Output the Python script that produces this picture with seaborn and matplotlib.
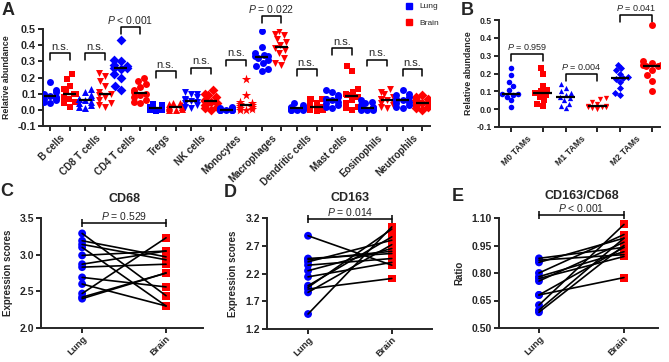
import numpy as np
import pandas as pd
import matplotlib
matplotlib.use('Agg')
import matplotlib.pyplot as plt
import seaborn as sns
from matplotlib.lines import Line2D

sns.set_style('ticks')
plt.rcParams['font.family'] = ['Liberation Sans', 'DejaVu Sans']
plt.rcParams['mathtext.fontset'] = 'custom'
plt.rcParams['mathtext.it'] = 'Liberation Sans:italic'
plt.rcParams['mathtext.rm'] = 'Liberation Sans'
plt.rcParams['axes.unicode_minus'] = False

BLUE = '#0000ff'
RED = '#ff0000'

# ---------------- panel A data ----------------
cells = ['B cells', 'CD8 T cells', 'CD4 T cells', 'Tregs', 'NK cells', 'Monocytes',
         'Macrophages', 'Dendritic cells', 'Mast cells', 'Eosinophils', 'Neutrophils']
bcell_lung = [0.17, 0.12, 0.11, 0.10, 0.09, 0.085, 0.08, 0.075, 0.07, 0.06, 0.05, 0.04]
bcell_brain = [0.22, 0.19, 0.15, 0.13, 0.11, 0.10, 0.095, 0.08, 0.07, 0.05, 0.04, 0.02]
cd8_lung = [0.13, 0.11, 0.09, 0.08, 0.07, 0.065, 0.06, 0.05, 0.04, 0.03, 0.02, 0.01]
cd8_brain = [0.23, 0.21, 0.18, 0.15, 0.11, 0.10, 0.09, 0.08, 0.06, 0.04, 0.03, 0.02]
cd4_lung = [0.43, 0.31, 0.30, 0.28, 0.27, 0.26, 0.26, 0.25, 0.22, 0.20, 0.15, 0.12]
cd4_brain = [0.20, 0.18, 0.16, 0.14, 0.12, 0.11, 0.10, 0.09, 0.08, 0.06, 0.05, 0.04]
treg_lung = [0.035, 0.03, 0.02, 0.015, 0.01, 0.01, 0.01, 0.005, 0.0, 0.0, -0.005, 0.0]
treg_brain = [0.045, 0.04, 0.035, 0.03, 0.025, 0.02, 0.02, 0.015, 0.01, 0.005, 0.0, 0.0]
nk_lung = [0.11, 0.10, 0.095, 0.08, 0.07, 0.06, 0.055, 0.05, 0.04, 0.03, 0.02, 0.01]
nk_brain = [0.12, 0.10, 0.09, 0.08, 0.06, 0.055, 0.05, 0.04, 0.03, 0.02, 0.01, 0.0]
mono_lung = [0.02, 0.01, 0.01, 0.005, 0.005, 0.0, 0.0, 0.0, 0.0, 0.0, 0.0, 0.0]
mono_brain = [0.19, 0.09, 0.05, 0.04, 0.035, 0.03, 0.025, 0.02, 0.01, 0.005, 0.0, 0.0]
mac_lung = [0.49, 0.39, 0.35, 0.34, 0.335, 0.33, 0.32, 0.31, 0.29, 0.27, 0.25, 0.24]
mac_brain = [0.49, 0.47, 0.46, 0.44, 0.42, 0.40, 0.38, 0.37, 0.35, 0.32, 0.29, 0.28]
dc_lung = [0.04, 0.03, 0.02, 0.015, 0.01, 0.01, 0.01, 0.005, 0.0, 0.0, 0.0, 0.0]
dc_brain = [0.07, 0.07, 0.065, 0.04, 0.03, 0.02, 0.01, 0.01, 0.0, 0.0, 0.0, -0.005]
mast_lung = [0.12, 0.11, 0.09, 0.08, 0.07, 0.065, 0.06, 0.05, 0.04, 0.03, 0.02, 0.01]
mast_brain = [0.27, 0.24, 0.13, 0.11, 0.10, 0.09, 0.08, 0.06, 0.04, 0.02, 0.01, 0.0]
eos_lung = [0.06, 0.05, 0.04, 0.03, 0.02, 0.015, 0.01, 0.01, 0.005, 0.0, 0.0, 0.0]
eos_brain = [0.13, 0.11, 0.10, 0.08, 0.07, 0.065, 0.06, 0.05, 0.04, 0.03, 0.02, 0.01]
neut_lung = [0.12, 0.10, 0.09, 0.08, 0.07, 0.06, 0.06, 0.05, 0.04, 0.03, 0.02, 0.01]
neut_brain = [0.09, 0.08, 0.07, 0.06, 0.05, 0.045, 0.04, 0.04, 0.03, 0.02, 0.01, 0.0]
a_lung = [bcell_lung, cd8_lung, cd4_lung, treg_lung, nk_lung, mono_lung,
          mac_lung, dc_lung, mast_lung, eos_lung, neut_lung]
a_brain = [bcell_brain, cd8_brain, cd4_brain, treg_brain, nk_brain, mono_brain,
           mac_brain, dc_brain, mast_brain, eos_brain, neut_brain]
a_lung_marker = ['o', '^', 'D', 's', 'v', 'o', 'o', 'o', 'o', 'o', 'o']
a_brain_marker = ['s', 'v', 'o', '^', 'D', '*', 'v', 's', 's', 'v', 'D']
a_sig_y = [0.35, 0.35, 0.51, 0.24, 0.26, 0.31, 0.58, 0.25, 0.38, 0.31, 0.25]
a_sig_txt = ['n.s.', 'n.s.', r'$\it{P}$ < 0.001', 'n.s.', 'n.s.', 'n.s.',
             r'$\it{P}$ = 0.022', 'n.s.', 'n.s.', 'n.s.', 'n.s.']

# ---------------- panel B data ----------------
tams = ['M0 TAMs', 'M1 TAMs', 'M2 TAMs']
m0_lung = [0.23, 0.19, 0.155, 0.13, 0.105, 0.085, 0.083, 0.08, 0.07, 0.05, 0.013]
m0_brain = [0.23, 0.20, 0.13, 0.11, 0.10, 0.088, 0.08, 0.07, 0.05, 0.03, 0.02]
m1_lung = [0.14, 0.12, 0.10, 0.09, 0.08, 0.07, 0.06, 0.05, 0.03, 0.02, 0.005]
m1_brain = [0.06, 0.055, 0.04, 0.03, 0.02, 0.015, 0.01, 0.01, 0.01, 0.005, 0.0]
m2_lung = [0.25, 0.23, 0.22, 0.20, 0.18, 0.175, 0.17, 0.15, 0.12, 0.09, 0.08]
m2_brain = [0.47, 0.27, 0.26, 0.25, 0.245, 0.24, 0.24, 0.22, 0.19, 0.16, 0.10]
b_lung = [m0_lung, m1_lung, m2_lung]
b_brain = [m0_brain, m1_brain, m2_brain]
b_lung_marker = ['o', '^', 'D']
b_brain_marker = ['s', 'v', 'o']
b_sig_y = [0.31, 0.20, 0.53]
b_sig_txt = [r'$\it{P}$ = 0.959', r'$\it{P}$ = 0.004', r'$\it{P}$ = 0.041']

# ---------------- panels C-E data (paired) ----------------
cd68_lung = [3.29, 3.19, 3.14, 3.10, 2.99, 2.87, 2.83, 2.69, 2.60, 2.47, 2.42, 2.40]
cd68_brain = [2.44, 2.97, 2.93, 2.30, 3.05, 3.05, 2.87, 2.56, 2.30, 3.23, 2.75, 2.75]
cd163_lung = [2.88, 2.47, 2.41, 2.35, 2.25, 2.14, 1.98, 1.92, 1.86, 1.47, 2.45, 1.95]
cd163_brain = [2.35, 2.56, 2.80, 2.47, 2.65, 2.40, 2.86, 2.11, 2.72, 3.04, 2.60, 3.00]
ratio_lung = [0.88, 0.858, 0.80, 0.78, 0.756, 0.68, 0.625, 0.598, 0.586, 0.87, 0.77, 0.68]
ratio_brain = [0.94, 0.99, 1.01, 0.916, 0.968, 0.775, 1.065, 0.99, 0.95, 0.90, 0.89, 0.94]


def long_table(groups_lung, groups_brain, lung_m, brain_m, off):
    rows = []
    for i in range(len(groups_lung)):
        for tissue, vals, mk, sign in [('Lung', groups_lung[i], lung_m[i], -1),
                                        ('Brain', groups_brain[i], brain_m[i], 1)]:
            for v in vals:
                rows.append({'group': i, 'tissue': tissue, 'value': v,
                             'pos': i + sign * off, 'marker': mk})
    return pd.DataFrame(rows)


def swarm_panel(ax, df, size_lung, size_brain, half):
    for (g, tissue), sub in df.groupby(['group', 'tissue']):
        mask = (df['group'] == g) & (df['tissue'] == tissue)
        color = BLUE if tissue == 'Lung' else RED
        mk = sub['marker'].iloc[0]
        sz = size_lung[g] if tissue == 'Lung' else size_brain[g]
        if mk == '*':
            sz = sz * 1.4
        sns.swarmplot(data=df.assign(value=df['value'].where(mask)), x='pos', y='value',
                      native_scale=True, orient='x', color=color, marker=mk, size=sz,
                      linewidth=0, warn_thresh=1, ax=ax, zorder=3)
        med = np.median(sub['value'])
        p = sub['pos'].iloc[0]
        ax.hlines(med, p - half, p + half, color='black', lw=1.6, zorder=5)


def style_axes(ax, lw=1.4):
    sns.despine(ax=ax)
    for s in ['left', 'bottom']:
        ax.spines[s].set_linewidth(lw)
    ax.tick_params(axis='both', width=lw, length=3.5, direction='out', pad=1.5)
    ax.set_xlabel('')


fig = plt.figure(figsize=(6.69, 3.62), dpi=100)
W, H = 669, 362


def rect(l, r, t, b):
    return [l / W, 1 - b / H, (r - l) / W, (b - t) / H]


axA = fig.add_axes(rect(43, 430, 29, 126))
axB = fig.add_axes(rect(499, 660, 20, 127))
axC = fig.add_axes(rect(41, 203, 218, 328))
axD = fig.add_axes(rect(267, 432, 218, 329))
axE = fig.add_axes(rect(499, 658, 218, 328))

# ---------------- A ----------------
offA = 0.28
dfa = long_table(a_lung, a_brain, a_lung_marker, a_brain_marker, offA)
swarm_panel(axA, dfa, [5] * 11, [5] * 11, 0.18)
axA.set_xlim(-0.48, 10.5)
axA.set_ylim(-0.1, 0.5)
axA.set_yticks(np.arange(-0.1, 0.51, 0.1))
axA.yaxis.set_major_formatter(matplotlib.ticker.FormatStrFormatter('%.1f'))
style_axes(axA)
axA.set_xticks(sorted(dfa['pos'].unique()), minor=True)
axA.set_xticks(range(len(cells)))
axA.set_xticklabels(cells, rotation=45, ha='right', rotation_mode='anchor',
                    fontsize=7.0, fontweight='bold')
axA.tick_params(axis='x', which='major', length=0, pad=5)
axA.tick_params(axis='x', which='minor', length=3.5, width=1.4)
axA.tick_params(axis='y', labelsize=7.8)
for t in axA.get_yticklabels():
    t.set_fontweight('bold')
axA.set_ylabel('Relative abundance', fontsize=6.4, fontweight='bold', labelpad=5)
for i, (h, lab) in enumerate(zip(a_sig_y, a_sig_txt)):
    axA.plot([i - offA, i - offA, i + offA, i + offA], [h - 0.04, h, h, h - 0.04],
             color='black', lw=1.1, clip_on=False)
    axA.annotate(lab, (i, h), xytext=(0, 1), textcoords='offset points',
                 ha='center', va='bottom', fontsize=8 if lab == 'n.s.' else 7.5,
                 annotation_clip=False)

fig.legend(handles=[Line2D([], [], marker='s', ls='', color=BLUE, markersize=5, label='Lung'),
                    Line2D([], [], marker='s', ls='', color=RED, markersize=5, label='Brain')],
           loc='upper left', bbox_to_anchor=(404 / W, 1 - 1 / H), frameon=False,
           fontsize=6, handlelength=0.8, handletextpad=0.9, labelspacing=1.0,
           borderaxespad=0, borderpad=0.2)

# ---------------- B ----------------
offB = 0.29
dfb = long_table(b_lung, b_brain, b_lung_marker, b_brain_marker, offB)
swarm_panel(axB, dfb, [4, 3.8, 3.6], [4, 3.8, 5], 0.17)
axB.set_xlim(-0.51, 2.44)
axB.set_ylim(-0.1, 0.5)
axB.set_yticks(np.arange(-0.1, 0.51, 0.1))
axB.yaxis.set_major_formatter(matplotlib.ticker.FormatStrFormatter('%.1f'))
style_axes(axB)
axB.set_xticks(sorted(dfb['pos'].unique()), minor=True)
axB.set_xticks(range(len(tams)))
axB.set_xticklabels(tams, rotation=45, ha='right', rotation_mode='anchor',
                    fontsize=6.3, fontweight='bold')
axB.tick_params(axis='x', which='major', length=0, pad=5)
axB.tick_params(axis='x', which='minor', length=3.5, width=1.4)
axB.tick_params(axis='y', labelsize=6.2)
for t in axB.get_yticklabels():
    t.set_fontweight('bold')
axB.set_ylabel('Relative abundance', fontsize=6.4, fontweight='bold', labelpad=2.5)
for i, (h, lab) in enumerate(zip(b_sig_y, b_sig_txt)):
    axB.plot([i - offB, i - offB, i + offB, i + offB], [h - 0.04, h, h, h - 0.04],
             color='black', lw=1.1, clip_on=False)
    axB.annotate(lab, (i, h), xytext=(0, 1), textcoords='offset points',
                 ha='center', va='bottom', fontsize=6.5, annotation_clip=False)


# ---------------- C-E ----------------
def paired_panel(ax, lung, brain, title, ptxt, ylim, yticks, fmt, ylabel, bar_y, title_off):
    df = pd.DataFrame({
        'pair': list(range(len(lung))) * 2,
        'tissue': ['Lung'] * len(lung) + ['Brain'] * len(brain),
        'value': list(lung) + list(brain),
    })
    df['pos'] = df['tissue'].map({'Lung': 0, 'Brain': 1})
    sns.scatterplot(data=df, x='pos', y='value', hue='tissue', style='tissue',
                    markers={'Lung': 'o', 'Brain': 's'}, palette={'Lung': BLUE, 'Brain': RED},
                    s=32, linewidth=0, legend=False, ax=ax, zorder=3, clip_on=False)
    sns.lineplot(data=df, x='pos', y='value', units='pair', estimator=None, color='black',
                 lw=1.2, legend=False, ax=ax, zorder=4, sort=False)
    ax.set_ylim(*ylim)
    ax.set_yticks(yticks)
    ax.yaxis.set_major_formatter(matplotlib.ticker.FormatStrFormatter(fmt))
    style_axes(ax)
    ax.set_xticks([0, 1])
    ax.set_xticklabels(['Lung', 'Brain'], rotation=45, ha='right', rotation_mode='anchor',
                       fontsize=6.8, fontweight='bold')
    ax.tick_params(axis='x', pad=1)
    ax.tick_params(axis='y', labelsize=7.5)
    for t in ax.get_yticklabels():
        t.set_fontweight('bold')
    ax.set_ylabel(ylabel, fontsize=7.0, fontweight='bold', labelpad=5)
    ax.plot([0, 1], [bar_y, bar_y], color='black', lw=1.1, clip_on=False,
            marker='|', markersize=6, markeredgewidth=1.1)
    ax.annotate(ptxt, (0.5, bar_y), xytext=(0, 1), textcoords='offset points',
                ha='center', va='bottom', fontsize=7.5, annotation_clip=False)
    ax.annotate(title, (0.5, 1), xycoords=('data', 'axes fraction'), xytext=(0, title_off),
                textcoords='offset points', ha='center', va='center', fontsize=9,
                fontweight='bold', annotation_clip=False)


paired_panel(axC, cd68_lung, cd68_brain, 'CD68', r'$\it{P}$ = 0.529', (2.0, 3.5),
             [2.0, 2.5, 3.0, 3.5], '%.1f', 'Expression scores', 3.43, 13.7)
axC.set_xlim(-0.49, 1.44)
paired_panel(axD, cd163_lung, cd163_brain, 'CD163', r'$\it{P}$ = 0.014', (1.2, 3.2),
             [1.2, 1.7, 2.2, 2.7, 3.2], '%.1f', 'Expression scores', 3.18, 14.4)
axD.set_xlim(-0.49, 1.48)
paired_panel(axE, ratio_lung, ratio_brain, 'CD163/CD68', r'$\it{P}$ < 0.001', (0.5, 1.1),
             [0.50, 0.65, 0.80, 0.95, 1.10], '%.2f', 'Ratio', 1.116, 15.8)
axE.set_xlim(-0.47, 1.4)

# panel letters
for lab, x, y in [('A', 2, 2), ('B', 461, 2), ('C', 0, 183), ('D', 224, 184), ('E', 452, 188)]:
    fig.text(x / W, 1 - y / H, lab, fontsize=13, fontweight='bold', va='top', ha='left')

fig.savefig('out.png', dpi=100)
